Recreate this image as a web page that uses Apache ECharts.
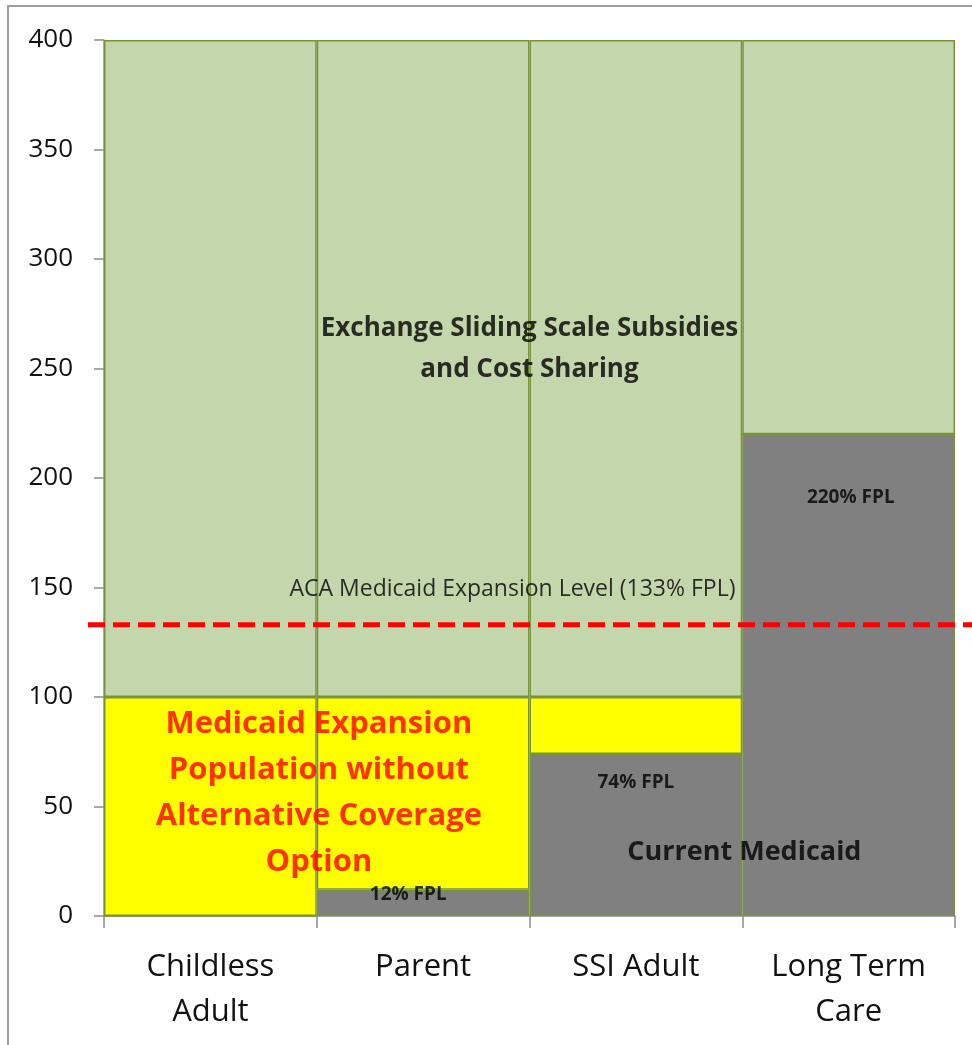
<!DOCTYPE html>
<html>
<head>
<meta charset="utf-8">
<title>Medicaid and Exchange Coverage by Population</title>
<script src="https://cdn.jsdelivr.net/npm/echarts@6/dist/echarts.min.js"></script>
<style>
  html, body { margin: 0; padding: 0; background: #ffffff; }
  #chart { width: 972px; height: 1045px; }
</style>
</head>
<body>
<div id="chart"></div>
<script>
// Eligibility groups along the x axis
const categories = ['Childless\nAdult', 'Parent', 'SSI Adult', 'Long Term\nCare'];

// Income levels (% of FPL), stacked bottom to top
const currentMedicaid = [0, 12, 74, 220];
const expansionGap = [100, 88, 26, 0];
const exchangeSubsidies = [300, 300, 300, 180];

// Value-axis ticks
const yMin = 0;
const yMax = 400;
const yStep = 50;

// ACA expansion threshold
const expansionLevel = 133;

// Annotation texts with anchors in data units (x: 0..4 across the groups, y: % FPL)
const notes = [
  { key: 'exchange', text: 'Exchange Sliding Scale Subsidies\nand Cost Sharing', at: [2.0, 259] },
  { key: 'aca', text: 'ACA Medicaid Expansion Level (133% FPL)', at: [1.92, 149] },
  { key: 'fpl', text: '220% FPL', at: [3.51, 191] },
  { key: 'fpl', text: '74% FPL', at: [2.5, 61] },
  { key: 'fpl', text: '12% FPL', at: [1.43, 9.6] },
  { key: 'current', text: 'Current Medicaid', at: [3.01, 29] },
  { key: 'gap', text: 'Medicaid Expansion\nPopulation without\nAlternative Coverage\nOption', at: [1.01, 56] }
];

const FONT = '"Open Sans", "DejaVu Sans", sans-serif';
const noteStyles = {
  exchange: { fontSize: 26, fontWeight: 'bold', color: '#000000', lineHeight: 41 },
  aca: { fontSize: 23, fontWeight: 'normal', color: '#000000' },
  fpl: { fontSize: 19, fontWeight: 'bold', color: '#000000' },
  current: { fontSize: 27, fontWeight: 'bold', color: '#000000' },
  gap: { fontSize: 31, fontWeight: 'bold', color: '#FF0000', lineHeight: 46 }
};

const barBorder = '#77933C';
const axisGray = '#8C8C8C';

const chart = echarts.init(document.getElementById('chart'), null, { renderer: 'canvas' });

const stackBar = (name, data, color, z) => ({
  name: name,
  type: 'bar',
  stack: 'fpl',
  xAxisIndex: 0,
  yAxisIndex: 0,
  barCategoryGap: '0%',
  data: data,
  z: z,
  itemStyle: { color: color, borderColor: barBorder, borderWidth: 1.5 },
  emphasis: { disabled: true }
});

const option = {
  animation: false,
  backgroundColor: '#ffffff',
  textStyle: { fontFamily: FONT },
  graphic: [
    {
      type: 'rect',
      shape: { x: 8, y: 6, width: 1000, height: 1100 },
      style: { fill: 'none', stroke: '#A0A0A0', lineWidth: 2 },
      silent: true,
      z: -10
    }
  ],
  grid: [
    { left: 104, right: 17, top: 40, bottom: 129, containLabel: false },
    { left: 88, right: 0, top: 40, bottom: 129, containLabel: false }
  ],
  xAxis: [
    {
      type: 'category',
      gridIndex: 0,
      data: categories,
      boundaryGap: true,
      axisLine: { show: true, lineStyle: { color: axisGray, width: 1.5 } },
      axisTick: { show: true, length: 12, alignWithLabel: false, lineStyle: { color: axisGray, width: 1.5 } },
      axisLabel: { fontSize: 31, lineHeight: 45, color: '#111111', margin: 29, fontFamily: FONT, interval: 0 },
      splitLine: { show: false }
    },
    { type: 'value', gridIndex: 0, min: 0, max: 4, show: false },
    { type: 'value', gridIndex: 1, min: 0, max: 1, show: false }
  ],
  yAxis: [
    {
      type: 'value',
      gridIndex: 0,
      min: yMin,
      max: yMax,
      interval: yStep,
      axisLine: { show: true, lineStyle: { color: axisGray, width: 1.5 } },
      axisTick: { show: true, length: 10, lineStyle: { color: axisGray, width: 1.5 } },
      axisLabel: { fontSize: 26, color: '#111111', margin: 31, fontFamily: FONT },
      splitLine: { show: false }
    },
    { type: 'value', gridIndex: 1, min: yMin, max: yMax, show: false }
  ],
  series: [
    stackBar('Current Medicaid', currentMedicaid, '#808080', 2),
    stackBar('Medicaid Expansion Population', expansionGap, '#FFFF00', 2),
    stackBar('Exchange Subsidies', exchangeSubsidies, '#C4D6AB', 2),
    {
      name: 'ACA Medicaid Expansion Level',
      type: 'line',
      xAxisIndex: 2,
      yAxisIndex: 1,
      data: [[0, expansionLevel], [1, expansionLevel]],
      symbol: 'none',
      z: 10,
      lineStyle: { color: '#FF0000', width: 5, type: [17, 8] },
      emphasis: { disabled: true }
    },
    {
      name: 'Notes',
      type: 'scatter',
      xAxisIndex: 1,
      yAxisIndex: 0,
      symbolSize: 1,
      z: 20,
      itemStyle: { color: 'transparent' },
      emphasis: { disabled: true },
      silent: true,
      data: notes.map(n => ({
        value: n.at,
        label: Object.assign({
          show: true,
          position: 'inside',
          align: 'center',
          verticalAlign: 'middle',
          fontFamily: FONT,
          formatter: () => n.text
        }, noteStyles[n.key])
      }))
    }
  ]
};

chart.setOption(option);
</script>
</body>
</html>
